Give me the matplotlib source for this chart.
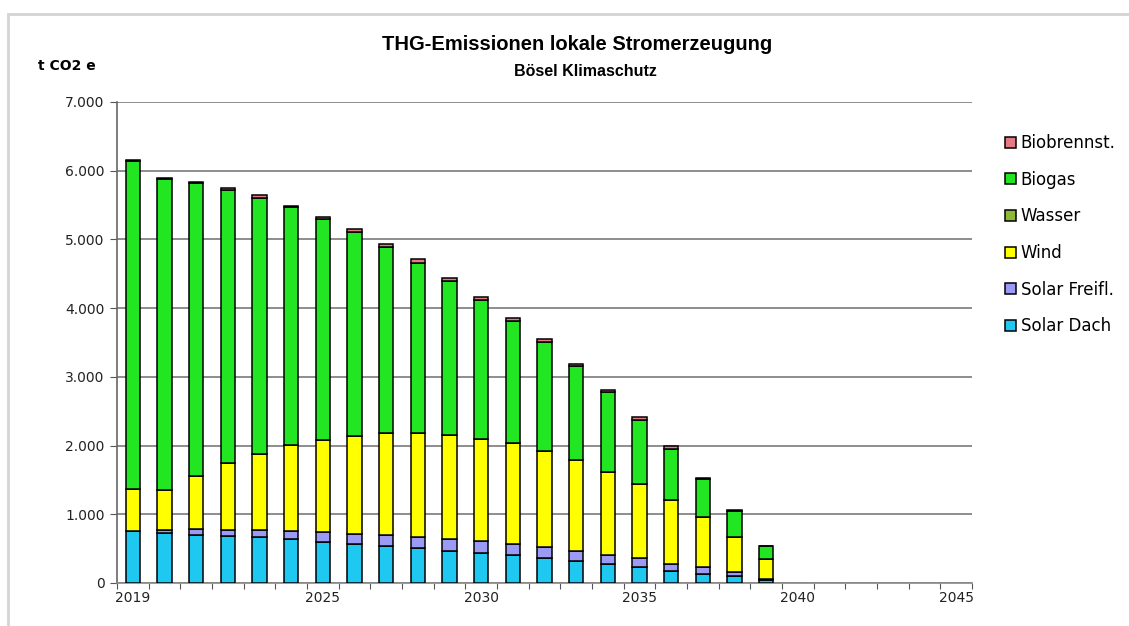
import numpy as np
import matplotlib
matplotlib.use("Agg")
import matplotlib.pyplot as plt
from matplotlib.patches import Rectangle
from matplotlib.ticker import FuncFormatter

# categories on the x axis (2019 .. 2045), data only up to 2039
years = list(range(2019, 2046))
label_years = [2019, 2025, 2030, 2035, 2040, 2045]

solar_dach = [750, 727, 703, 688, 664, 640, 601, 572, 543, 509, 470,
              436, 402, 364, 315, 276, 238, 170, 136, 97, 45]
solar_freifl = [5, 40, 80, 90, 112, 111, 141, 145, 150, 160, 175,
                170, 165, 155, 155, 136, 126, 111, 97, 63, 20]
wind = [606, 591, 776, 969, 1105, 1256, 1342, 1426, 1483, 1507, 1512,
        1488, 1469, 1396, 1314, 1202, 1076, 921, 722, 509, 284]
wasser = [0] * 21
biogas = [4780, 4517, 4260, 3969, 3727, 3460, 3218, 2971, 2720, 2487, 2240,
          2026, 1784, 1590, 1367, 1159, 935, 751, 562, 383, 184]
biobrennst = [10, 20, 20, 30, 40, 25, 30, 40, 40, 49, 48,
              39, 43, 43, 39, 38, 34, 34, 5, 5, 0]

series = [
    ("Solar Dach", solar_dach, "#1EC8F0"),
    ("Solar Freifl.", solar_freifl, "#9B9BF5"),
    ("Wind", wind, "#FFFF00"),
    ("Wasser", wasser, "#8DB83A"),
    ("Biogas", biogas, "#22E622"),
    ("Biobrennst.", biobrennst, "#E57A84"),
]

fig = plt.figure(figsize=(11.29, 6.26), dpi=100)
ax = fig.add_axes([117 / 1129, 1 - 583 / 626, (972 - 117) / 1129, (583 - 102) / 626])

x = np.arange(len(solar_dach))
bottom = np.zeros(len(x))
handles = []
for name, vals, col in series:
    vals = np.array(vals, dtype=float)
    b = ax.bar(x, vals, width=0.45, bottom=bottom, color=col,
               edgecolor="black", linewidth=1.1, label=name, zorder=3)
    handles.append(b)
    bottom += vals

ax.set_xlim(-0.5, len(years) - 0.5)
ax.set_ylim(0, 7000)
ax.set_yticks(np.arange(0, 7001, 1000))
ax.yaxis.set_major_formatter(FuncFormatter(lambda v, p: f"{v:,.0f}".replace(",", ".")))
ax.grid(axis="y", color="#7a7a7a", linewidth=1.2, zorder=0)

ax.set_xticks(np.arange(len(years) + 1) - 0.5)
ax.set_xticklabels([])
ax.set_xticks([years.index(y) for y in label_years], minor=True)
ax.set_xticklabels([str(y) for y in label_years], minor=True)
ax.tick_params(axis="x", which="major", length=4, color="#555555", direction="out")
ax.tick_params(axis="x", which="minor", length=0, pad=6, labelsize=10, labelcolor="#222222")
ax.tick_params(axis="y", length=5, color="#555555", labelsize=10, labelcolor="#222222", pad=4)

for s in ["top", "right"]:
    ax.spines[s].set_visible(False)
ax.spines["left"].set_color("#666666")
ax.spines["bottom"].set_color("#888888")
ax.spines["left"].set_linewidth(1.2)
ax.spines["bottom"].set_linewidth(1.2)

fig.text(577 / 1129, 1 - 45 / 626, "THG-Emissionen lokale Stromerzeugung",
         ha="center", va="center", fontsize=14.5, fontweight="bold", family="Liberation Sans")
fig.text(585 / 1129, 1 - 72 / 626, "Bösel Klimaschutz",
         ha="center", va="center", fontsize=11.5, fontweight="bold", family="Liberation Sans")
fig.text(38 / 1129, 1 - 66 / 626, "t CO2 e", ha="left", va="center",
         fontsize=10, fontweight="bold")

leg = fig.legend(handles[::-1], [s[0] for s in series][::-1],
                 loc="upper left", bbox_to_anchor=(1005 / 1129, 1 - 134 / 626),
                 frameon=False, fontsize=12, handlelength=0.65, handleheight=0.65,
                 handletextpad=0.3, labelspacing=1.12, borderpad=0, borderaxespad=0)

fig.add_artist(Rectangle((8 / 1129, -0.1), 1.2, (626 - 14) / 626 + 0.1,
                         transform=fig.transFigure, fill=False,
                         edgecolor="#d4d4d4", linewidth=2))

fig.savefig("out.png", dpi=100)
